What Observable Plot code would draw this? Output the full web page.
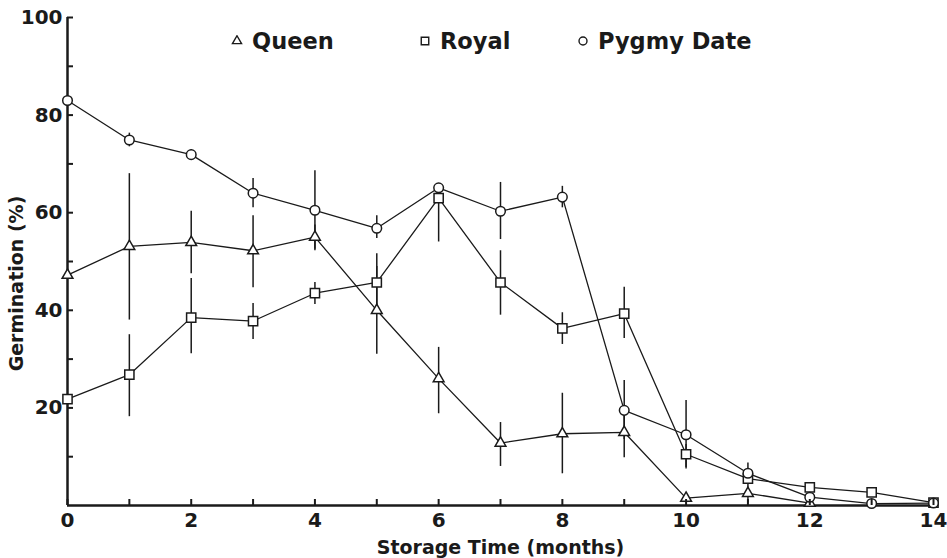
<!DOCTYPE html>
<html>
<head>
<meta charset="utf-8">
<script src="https://cdn.jsdelivr.net/npm/d3@7"></script>
<script src="https://cdn.jsdelivr.net/npm/@observablehq/plot@0.6"></script>
<style>
  html, body { margin: 0; padding: 0; background: #fff; }
  #wrap { position: relative; width: 947px; height: 558px; }
  #legend { position: absolute; left: 0; top: 0; width: 947px; height: 60px; pointer-events: none;
    font-family: "DejaVu Sans", sans-serif; font-weight: bold; font-size: 22.5px; color: #1a1a1a; }
  .item { position: absolute; top: 28px; display: flex; align-items: center; white-space: nowrap; }
  .item svg { margin-right: 9px; }
</style>
</head>
<body>
<div id="wrap">
  <div id="chart"></div>
  <div id="legend"></div>
</div>
<script>
// ---- data ----
const months = [0, 1, 2, 3, 4, 5, 6, 7, 8, 9, 10, 11, 12, 13, 14];
const seriesNames = ["Queen", "Royal", "Pygmy Date"];
const seriesSymbols = ["triangle", "square", "circle"];

const queen   = [47.2, 53.1, 53.9, 52.2, 55.0, 40.0, 26.0, 12.8, 14.7, 15.0, 1.5, 2.5, 0.5, null, null];
const queenLo = [null, 38.0, 47.5, 44.6, 52.2, 31.0, 18.8, 8.0, 6.5, 9.8, null, 0.5, null, null, null];
const queenHi = [null, 68.0, 60.3, 59.4, 57.5, 49.0, 32.4, 17.0, 23.0, 20.0, null, 4.5, null, null, null];

const royal   = [21.8, 26.8, 38.5, 37.8, 43.5, 45.7, 63.0, 45.7, 36.3, 39.3, 10.5, 5.5, 3.7, 2.7, 0.6];
const royalLo = [null, 18.2, 31.1, 34.0, 41.2, 39.7, 54.0, 39.0, 33.0, 34.2, 7.8, null, null, null, null];
const royalHi = [null, 35.0, 46.5, 41.4, 45.7, 51.6, 63.0, 52.2, 39.5, 44.7, 12.5, null, null, null, null];

const pygmy   = [83.0, 74.9, 71.9, 64.0, 60.5, 56.8, 65.1, 60.3, 63.2, 19.5, 14.5, 6.6, 1.7, 0.4, 0.5];
const pygmyLo = [82.0, 73.5, 71.0, 61.0, 52.5, 54.7, null, 54.5, 61.0, 13.5, 7.5, 4.6, null, null, null];
const pygmyHi = [84.0, 76.3, 72.9, 67.0, 68.6, 59.4, null, 66.2, 65.4, 25.6, 21.5, 8.7, null, null, null];

const yLabelTicks = [20, 40, 60, 80, 100];
const yAllTicks = [10, 20, 30, 40, 50, 60, 70, 80, 90, 100];
const xLabelTicks = [0, 2, 4, 6, 8, 10, 12, 14];
const xAllTicks = months;
const xTitle = "Storage Time (months)";
const yTitle = "Germination (%)";

// ---- build tidy tables ----
const raw = [[queen, queenLo, queenHi], [royal, royalLo, royalHi], [pygmy, pygmyLo, pygmyHi]];
const points = [];
const bars = [];
raw.forEach(([v, lo, hi], si) => {
  months.forEach((m, i) => {
    if (v[i] != null) points.push({series: seriesNames[si], symbol: seriesSymbols[si], month: m, value: v[i]});
    if (lo[i] != null) bars.push({series: seriesNames[si], month: m, lo: lo[i], hi: hi[i]});
  });
});

const ink = "#1a1a1a";
const dotOpts = (name, r) => ({
  filter: d => d.series === name, x: "month", y: "value",
  symbol: "symbol", r, fill: "white", stroke: ink, strokeWidth: 1.5
});

const plot = Plot.plot({
  width: 947,
  height: 558,
  marginLeft: 67,
  marginRight: 14,
  marginTop: 17,
  marginBottom: 53,
  style: {fontFamily: "DejaVu Sans, sans-serif", fontWeight: "bold", fontSize: "20px", color: ink, background: "white"},
  x: {domain: [0, 14]},
  y: {domain: [0, 100]},
  symbol: {domain: seriesSymbols, range: seriesSymbols},
  marks: [
    Plot.line(points, {x: "month", y: "value", z: "series", stroke: ink, strokeWidth: 1.3}),
    Plot.ruleX(bars, {x: "month", y1: "lo", y2: "hi", stroke: ink, strokeWidth: 1.5}),
    Plot.ruleY([0], {stroke: ink, strokeWidth: 2.5}),
    Plot.ruleX([0], {stroke: ink, strokeWidth: 2.5}),
    Plot.dot(points, dotOpts("Queen", 4.0)),
    Plot.dot(points, dotOpts("Royal", 5.2)),
    Plot.dot(points, dotOpts("Pygmy Date", 4.8)),
    Plot.axisY({ticks: yAllTicks, tickSize: -6, text: null, label: null, strokeWidth: 2, stroke: ink}),
    Plot.axisY({ticks: yLabelTicks, tickSize: 0, tickPadding: 5, fill: ink, label: null}),
    Plot.axisX({ticks: xAllTicks, tickSize: -6, text: null, label: null, strokeWidth: 2, stroke: ink}),
    Plot.axisX({ticks: xLabelTicks, tickSize: 0, tickPadding: 7, fill: ink, label: null}),
    Plot.text([yTitle], {text: d => d, frameAnchor: "left", rotate: -90, dx: -51, dy: 22,
      fontSize: 19, fontWeight: "bold", fill: ink, textAnchor: "middle", lineAnchor: "middle"}),
    Plot.text([xTitle], {text: d => d, frameAnchor: "bottom", dx: 0, dy: 42,
      fontSize: 19, fontWeight: "bold", fill: ink, textAnchor: "middle", lineAnchor: "middle"})
  ]
});
document.getElementById("chart").appendChild(plot);

// ---- legend overlay ----
const legendPos = [237, 425, 583];
const symbolTypes = {triangle: d3.symbolTriangle, square: d3.symbolSquare, circle: d3.symbolCircle};
const legendSizes = {triangle: 36, square: 56, circle: 50};
const legend = document.getElementById("legend");
seriesNames.forEach((name, i) => {
  const div = document.createElement("div");
  div.className = "item";
  div.style.left = (legendPos[i] - 6) + "px";
  const s = seriesSymbols[i];
  const sym = d3.symbol(symbolTypes[s], legendSizes[s])();
  div.innerHTML = `<svg width="12" height="12" viewBox="-6 -6 12 12"><path d="${sym}" fill="white" stroke="${ink}" stroke-width="1.4"/></svg><span>${name}</span>`;
  legend.appendChild(div);
});
</script>
</body>
</html>
